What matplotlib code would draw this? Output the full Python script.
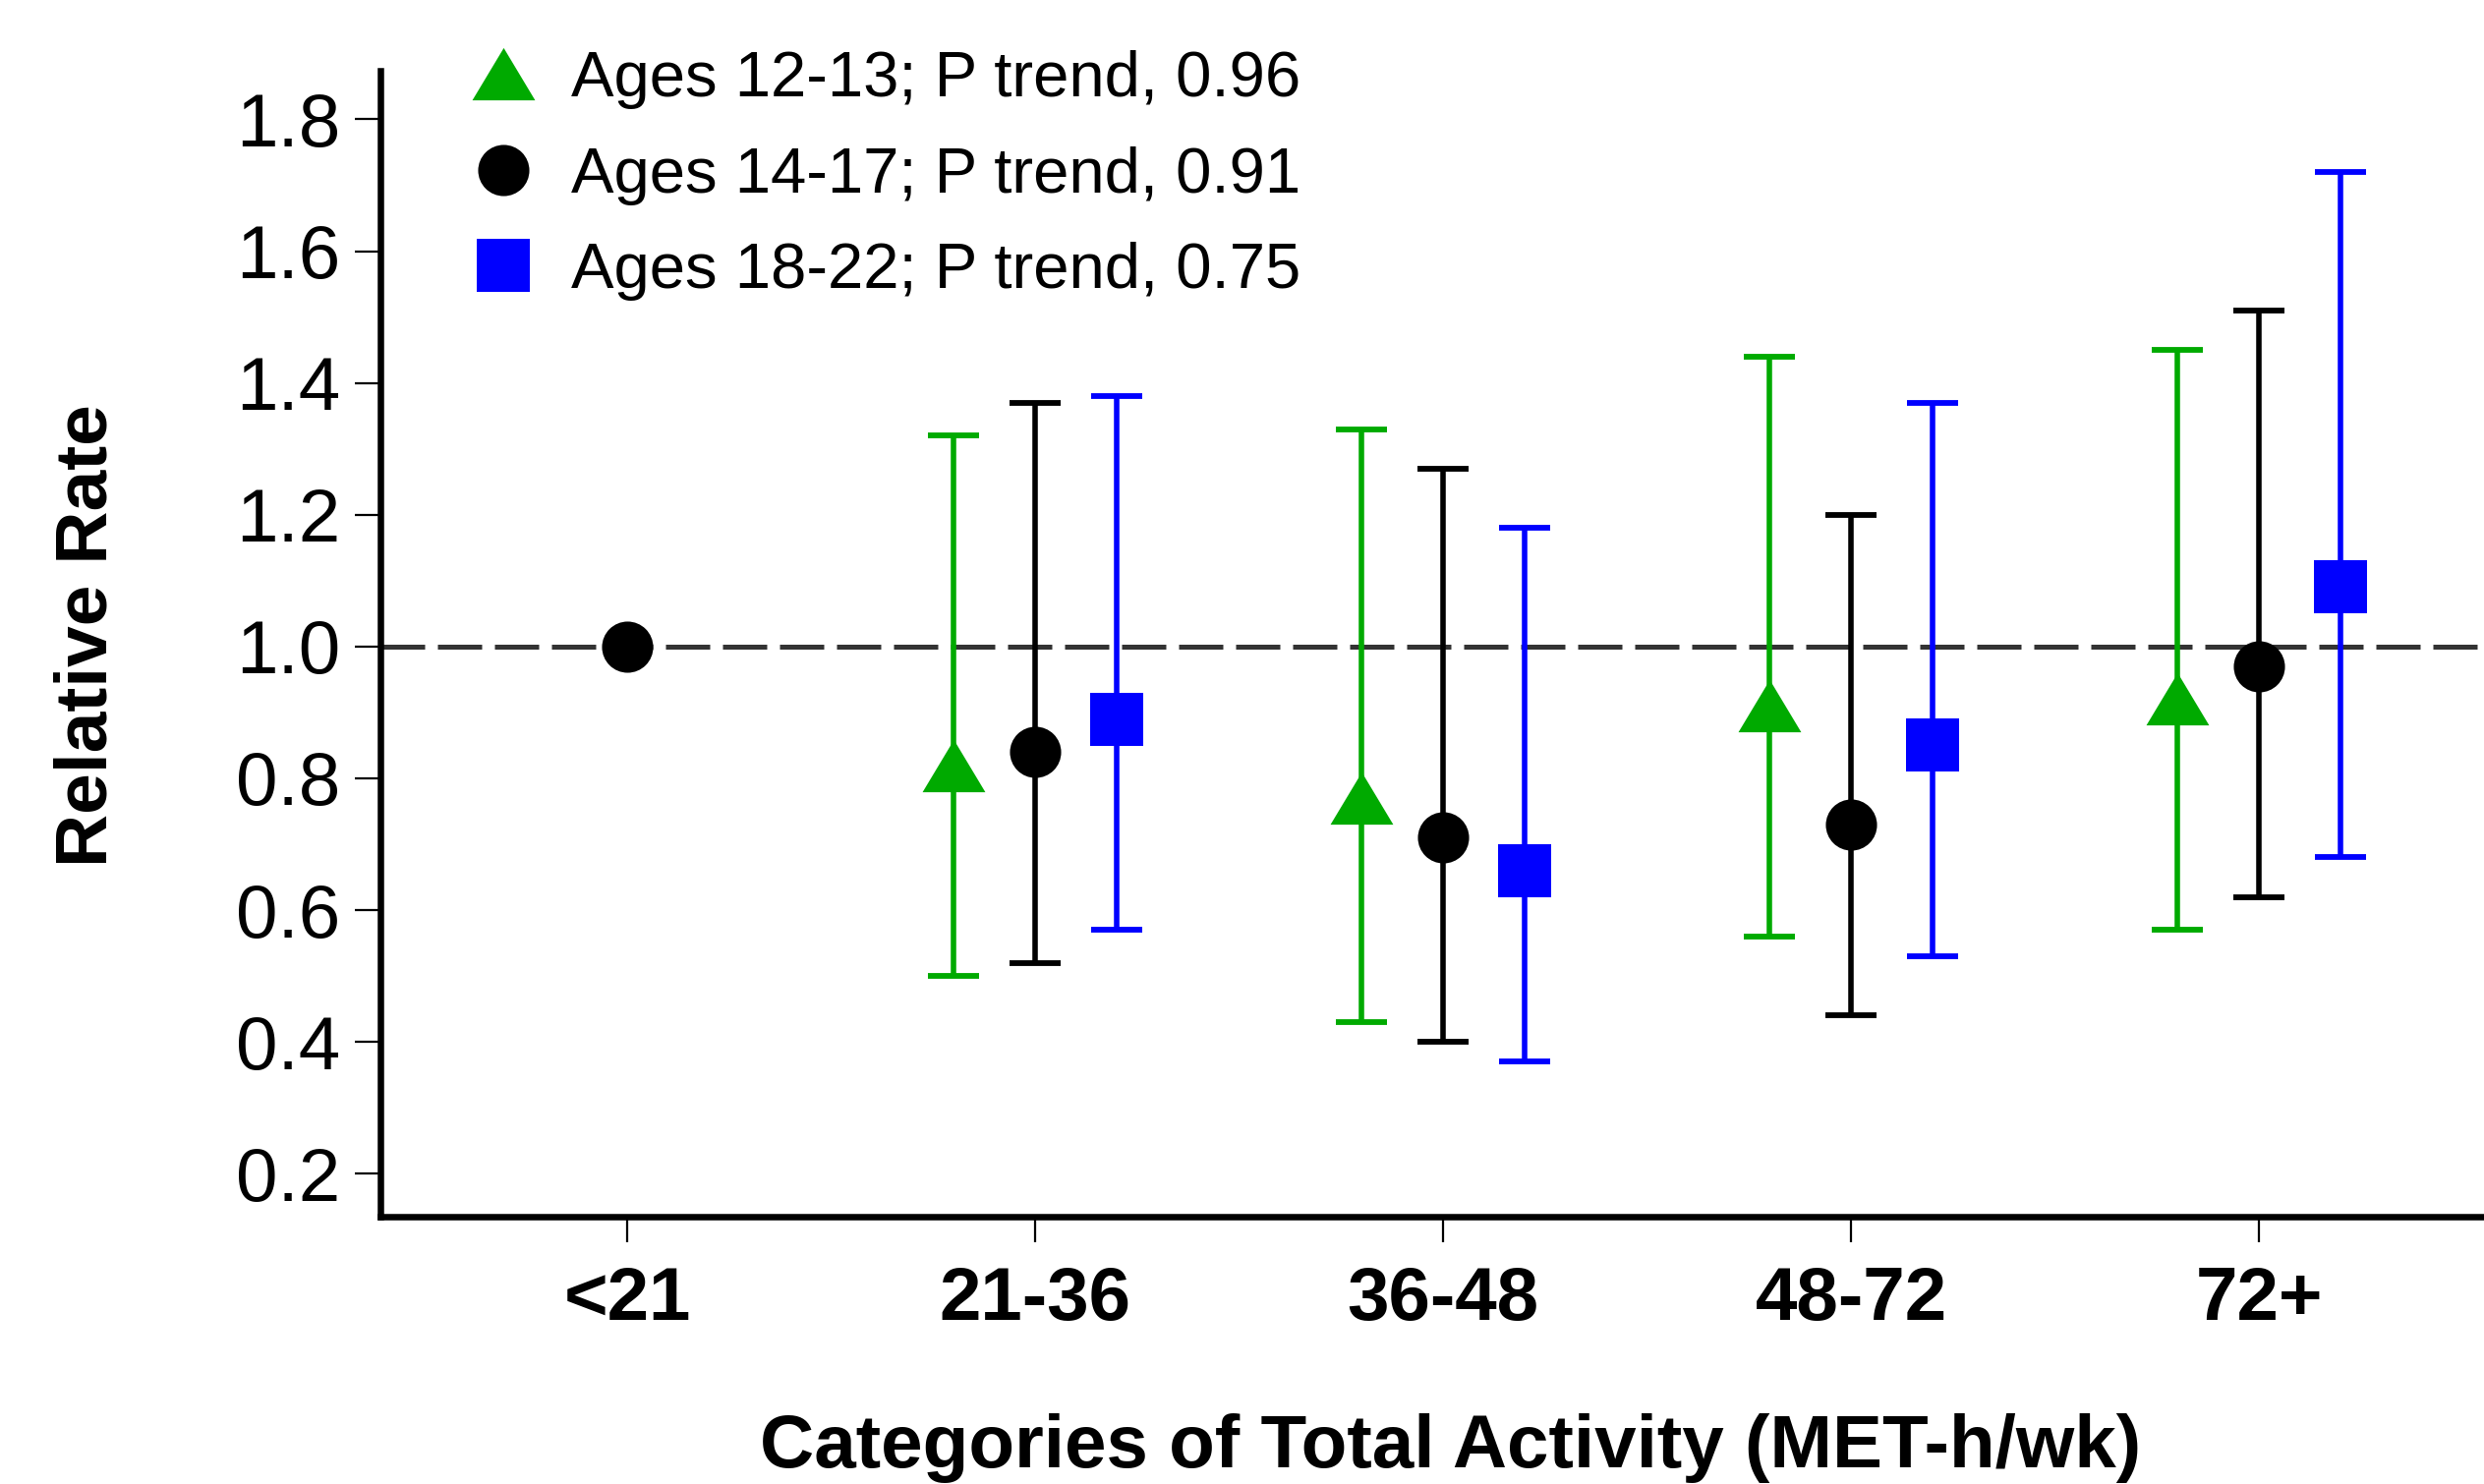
import numpy as np
import matplotlib
matplotlib.use("Agg")
import matplotlib.pyplot as plt
from matplotlib.lines import Line2D

plt.rcParams['font.family'] = ['Liberation Sans', 'DejaVu Sans']

# Categories of total activity (MET-h/wk)
categories = ['<21', '21-36', '36-48', '48-72', '72+']

# reference category (<21) shown only for ages 14-17
ref_rate = 1.0

# relative rates and 95% CI for categories 21-36 .. 72+
rr_12_13 = [0.82, 0.77, 0.91, 0.92]
lo_12_13 = [0.50, 0.43, 0.56, 0.57]
hi_12_13 = [1.32, 1.33, 1.44, 1.45]

rr_14_17 = [0.84, 0.71, 0.73, 0.97]
lo_14_17 = [0.52, 0.40, 0.44, 0.62]
hi_14_17 = [1.37, 1.27, 1.20, 1.51]

rr_18_22 = [0.89, 0.66, 0.85, 1.09]
lo_18_22 = [0.57, 0.37, 0.53, 0.68]
hi_18_22 = [1.38, 1.18, 1.37, 1.72]

labels = ['Ages 12-13; P trend, 0.96',
          'Ages 14-17; P trend, 0.91',
          'Ages 18-22; P trend, 0.75']

green = '#00AA00'
blue = '#0000FF'
tri = [(-1.2, -1.0), (1.2, -1.0), (0.0, 1.0)]

fig = plt.figure(figsize=(25.27, 15.10), dpi=100)
ax = fig.add_axes([0.1531, 0.1801, 0.8469, 0.952 - 0.1801])

x = np.arange(1, len(categories))
off = 0.2

ax.axhline(1.0, color='#333333', lw=3.6, dashes=(9, 2.6), zorder=1)

def draw(xs, rr, lo, hi, color, marker, ms):
    rr = np.array(rr); lo = np.array(lo); hi = np.array(hi)
    ax.errorbar(xs, rr, yerr=[rr - lo, hi - rr], fmt='none', ecolor=color,
                elinewidth=4.0, capsize=19, capthick=4.2, zorder=2)
    ax.plot(xs, rr, linestyle='none', marker=marker, ms=ms, color=color,
            markeredgewidth=0, zorder=3)

draw(x - off, rr_12_13, lo_12_13, hi_12_13, green, tri, 46)
draw(x, rr_14_17, lo_14_17, hi_14_17, 'black', 'o', 37.5)
draw(x + off, rr_18_22, lo_18_22, hi_18_22, blue, 's', 39)
ax.plot([0], [ref_rate], linestyle='none', marker='o', ms=37.5, color='black',
        markeredgewidth=0, zorder=3)

ax.set_xlim(-0.605, 4.551)
ax.set_ylim(0.1347, 1.873)
ax.set_xticks(range(len(categories)))
ax.set_xticklabels(categories, fontsize=55, fontweight='bold')
ax.set_yticks([0.2, 0.4, 0.6, 0.8, 1.0, 1.2, 1.4, 1.6, 1.8])
ax.set_yticklabels(['0.2', '0.4', '0.6', '0.8', '1.0', '1.2', '1.4', '1.6', '1.8'],
                   fontsize=55)
ax.tick_params(axis='x', length=18.7, width=1.6, pad=17)
ax.tick_params(axis='y', length=18.7, width=1.6, pad=10.5)

for s in ['top', 'right']:
    ax.spines[s].set_visible(False)
for s in ['left', 'bottom']:
    ax.spines[s].set_linewidth(4.7)

fig.text(0.0351, 0.5715, 'Relative Rate', rotation=90, ha='center', va='center',
         fontsize=54, fontweight='bold')
fig.text(0.5838, 0.0245, 'Categories of Total Activity (MET-h/wk)', ha='center',
         va='center', fontsize=55, fontweight='bold')

handles = [Line2D([], [], linestyle='none', marker=tri, ms=46, color=green, markeredgewidth=0),
           Line2D([], [], linestyle='none', marker='o', ms=37.5, color='black', markeredgewidth=0),
           Line2D([], [], linestyle='none', marker='s', ms=39, color=blue, markeredgewidth=0)]
ax.legend(handles, labels, loc='upper left', bbox_to_anchor=(479 / 2527, 0.966),
          bbox_transform=fig.transFigure, frameon=False, fontsize=47,
          handlelength=1.0, handletextpad=0.57, borderpad=0, borderaxespad=0,
          labelspacing=0.57)

fig.savefig('out.png', dpi=100)
